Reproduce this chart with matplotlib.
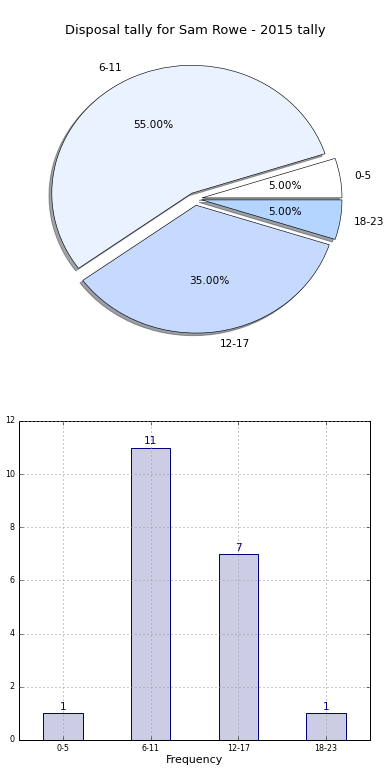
import matplotlib
matplotlib.use('Agg')
import matplotlib.pyplot as plt
import numpy as np

plt.style.use('classic')

# Data
categories = ['0-5', '6-11', '12-17', '18-23']
counts = [1, 11, 7, 1]
pie_colors = ['#ffffff', '#eaf1ff', '#c6d9ff', '#b4d5ff']
explode = [0.05, 0.05, 0.05, 0.05]
title = 'Disposal tally for Sam Rowe - 2015 tally'

fig = plt.figure(figsize=(390 / 72, 780 / 72), dpi=72, facecolor='white')

# Pie chart
ax1 = fig.add_axes([0.1, 0.545, 0.8, 0.4])
wedges, texts, autotexts = ax1.pie(counts, labels=categories, colors=pie_colors,
                                   explode=explode, autopct='%.2f%%', shadow=True,
                                   startangle=0, textprops={'fontsize': 10.5})
ax1.set_aspect('auto')
ax1.set_xlim(-1.114, 1.114)
ax1.set_ylim(-1.22, 1.22)
for w in wedges:
    w.set_edgecolor('black')
    w.set_linewidth(0.6)
fig.text(0.5, 0.961, title, ha='center', va='center', fontsize=13)

# Bar chart
ax2 = fig.add_axes([0.0487, 0.0513, 0.9, 0.409])
x = np.arange(len(categories))
ax2.bar(x, counts, width=0.45, align='center', color='navy', alpha=0.2)
ax2.bar(x, counts, width=0.45, align='center', fill=False, edgecolor='navy', linewidth=1)
for xi, c in zip(x, counts):
    ax2.text(xi, c + 0.05, str(c), ha='center', va='bottom', color='navy', fontsize=10.5)
ax2.set_xlim(-0.5, 3.5)
ax2.set_ylim(0, 12)
ax2.set_xticks(x)
ax2.set_xticklabels(categories)
ax2.tick_params(labelsize=8)
ax2.grid(True, color='#999999', linestyle=':', linewidth=1)
ax2.set_xlabel('Frequency', fontsize=11, labelpad=2)
ax2.set_ylabel('Disposal tally', fontsize=9)

fig.savefig('out.png', dpi=72, facecolor='white')
